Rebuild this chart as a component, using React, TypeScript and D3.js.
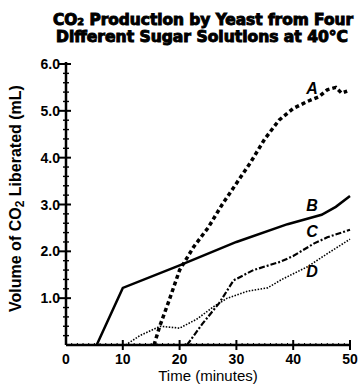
import React, { useEffect, useRef } from 'react';
import * as d3 from 'd3';

// values: [time (min), volume (mL)]
const timeTicks = [0, 10, 20, 30, 40, 50];
const volumeTicks = [1, 2, 3, 4, 5, 6];

const sugarA = [
  [15.5, 0], [16.5, 0.4], [18, 0.9], [20, 1.6], [22.5, 2.1], [25, 2.5], [27.5, 3.0],
  [30, 3.45], [32.5, 3.9], [35, 4.4], [37.5, 4.8], [40, 5.05], [42.5, 5.2],
  [44.5, 5.3], [46, 5.45], [47.5, 5.5], [48.5, 5.38], [49.5, 5.42],
];
const sugarB = [
  [5.4, 0], [10, 1.22], [20, 1.7], [30, 2.2], [39, 2.58], [45, 2.78], [47.5, 2.95], [50, 3.18],
];
const sugarC = [
  [21.3, 0], [24, 0.45], [27, 0.9], [29.5, 1.38], [33, 1.6], [37.8, 1.78], [40, 1.9],
  [43.7, 2.17], [46, 2.3], [50, 2.46],
];
const sugarD = [
  [10.5, 0], [13, 0.2], [16.6, 0.4], [20, 0.36], [23, 0.55], [26, 0.82], [28.4, 1.0],
  [32, 1.15], [35.5, 1.22], [38, 1.4], [42.5, 1.67], [46, 1.95], [50, 2.26],
];

const seriesNames = ['A', 'B', 'C', 'D'];
const seriesData = [sugarA, sugarB, sugarC, sugarD];
// where each curve's letter sits: [time, volume]
const labelAt = [[42.3, 5.36], [42.3, 2.86], [42.3, 2.3], [42.3, 1.45]];

export default function App() {
  const ref = useRef<SVGSVGElement>(null);

  useEffect(() => {
    const width = 360;
    const height = 388;
    const margin = { top: 64, right: 10, bottom: 43, left: 66 };
    const innerWidth = 350 - margin.left;
    const innerHeight = height - margin.top - margin.bottom;

    const svg = d3.select(ref.current);
    svg.selectAll('*').remove();
    svg.attr('width', width).attr('height', height);

    const font = 'Liberation Sans, Arial, sans-serif';

    // Title (heavy, condensed, like the scan)
    const title = svg.append('text')
      .attr('text-anchor', 'middle')
      .attr('font-family', 'DejaVu Sans Condensed, DejaVu Sans, sans-serif')
      .attr('font-weight', 900)
      .attr('font-size', 15)
      .attr('stroke', '#000')
      .attr('stroke-width', 0.9);
    title.append('tspan').attr('x', 203).attr('y', 25)
      .attr('textLength', 300).attr('lengthAdjust', 'spacingAndGlyphs')
      .text('CO\u2082 Production by Yeast from Four');
    title.append('tspan').attr('x', 202).attr('y', 42)
      .attr('textLength', 292).attr('lengthAdjust', 'spacingAndGlyphs')
      .text('Different Sugar Solutions at 40\u00b0C');

    const g = svg.append('g')
      .attr('transform', `translate(${margin.left}, ${margin.top})`);

    // Scales
    const xScale = d3.scaleLinear().domain([0, 50]).range([0, innerWidth]);
    const yScale = d3.scaleLinear().domain([0, 6]).range([innerHeight, 0]);

    // Minor ticks
    g.selectAll('.x-minor')
      .data(d3.range(1, 51).filter(d => d % 10 !== 0))
      .join('line')
      .attr('x1', d => xScale(d)).attr('x2', d => xScale(d))
      .attr('y1', innerHeight - 2).attr('y2', innerHeight + 1)
      .attr('stroke', '#000').attr('stroke-width', 1);

    g.selectAll('.y-minor')
      .data(d3.range(0.2, 6, 0.2).filter(d => Math.abs(d - Math.round(d)) > 0.05))
      .join('line')
      .attr('x1', -3).attr('x2', 3)
      .attr('y1', d => yScale(d)).attr('y2', d => yScale(d))
      .attr('stroke', '#000').attr('stroke-width', 1.4);

    // Major ticks
    g.selectAll('.x-major')
      .data(timeTicks.slice(1))
      .join('line')
      .attr('x1', d => xScale(d)).attr('x2', d => xScale(d))
      .attr('y1', innerHeight - 5).attr('y2', innerHeight + 5)
      .attr('stroke', '#000').attr('stroke-width', 2);

    g.selectAll('.y-major')
      .data(volumeTicks)
      .join('line')
      .attr('x1', -7).attr('x2', 5)
      .attr('y1', d => yScale(d)).attr('y2', d => yScale(d))
      .attr('stroke', '#000').attr('stroke-width', 2);

    // Axis lines
    g.append('line')
      .attr('x1', 0).attr('x2', 0).attr('y1', innerHeight).attr('y2', yScale(6) - 2)
      .attr('stroke', '#000').attr('stroke-width', 2.5);
    g.append('line')
      .attr('x1', 0).attr('x2', xScale(50)).attr('y1', innerHeight).attr('y2', innerHeight)
      .attr('stroke', '#000').attr('stroke-width', 2.5);

    // Tick labels
    g.selectAll('.x-label')
      .data(timeTicks)
      .join('text')
      .attr('x', d => xScale(d))
      .attr('y', innerHeight + 19)
      .attr('text-anchor', 'middle')
      .attr('font-family', font)
      .attr('font-weight', 'bold')
      .attr('font-size', 14)
      .text(d => d);

    g.selectAll('.y-label')
      .data(volumeTicks)
      .join('text')
      .attr('x', -6)
      .attr('y', d => yScale(d) + 5)
      .attr('text-anchor', 'end')
      .attr('font-family', font)
      .attr('font-weight', 'bold')
      .attr('font-size', 14)
      .text(d => d3.format('.1f')(d));

    // Axis titles
    g.append('text')
      .attr('x', xScale(25))
      .attr('y', innerHeight + 36)
      .attr('text-anchor', 'middle')
      .attr('font-family', font)
      .attr('font-size', 15)
      .text('Time (minutes)');

    const yTitle = g.append('text')
      .attr('transform', `translate(${-45}, ${innerHeight / 2 - 6}) rotate(-90)`)
      .attr('text-anchor', 'middle')
      .attr('font-family', font)
      .attr('font-weight', 'bold')
      .attr('font-size', 16);
    yTitle.append('tspan').text('Volume of CO');
    yTitle.append('tspan').attr('font-size', 12).attr('dy', 3).text('2');
    yTitle.append('tspan').attr('dy', -3).text(' Liberated (mL)');

    // Curves
    const lineGen = d3.line<number[]>()
      .x(d => xScale(d[0]))
      .y(d => yScale(d[1]));

    const styles = [
      { width: 3.5, dash: '4 3' },
      { width: 2.5, dash: null },
      { width: 2.2, dash: '6 2 2 2' },
      { width: 1.6, dash: '1.5 1.5' },
    ];

    g.selectAll('.curve')
      .data(seriesData)
      .join('path')
      .attr('class', 'curve')
      .attr('d', d => lineGen(d))
      .attr('fill', 'none')
      .attr('stroke', '#000')
      .attr('stroke-width', (d, i) => styles[i].width)
      .attr('stroke-dasharray', (d, i) => styles[i].dash);

    // Curve labels
    g.selectAll('.curve-label')
      .data(seriesNames)
      .join('text')
      .attr('x', (d, i) => xScale(labelAt[i][0]))
      .attr('y', (d, i) => yScale(labelAt[i][1]))
      .attr('font-family', font)
      .attr('font-weight', 'bold')
      .attr('font-style', 'italic')
      .attr('font-size', 16)
      .text(d => d);
  }, []);

  return (
    <div>
      <svg ref={ref} style={{ position: 'absolute', left: 0, top: 0, background: '#fff' }} />
    </div>
  );
}
